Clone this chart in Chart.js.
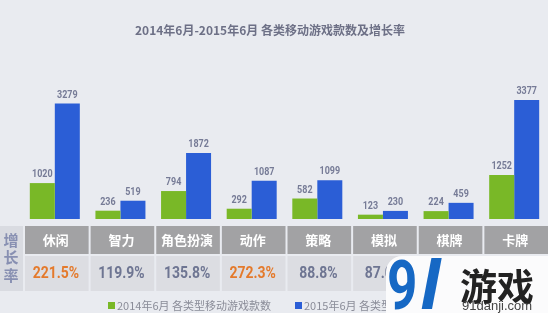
<!DOCTYPE html>
<html><head><meta charset="utf-8">
<script src="https://cdn.jsdelivr.net/npm/chart.js@4.4.1/dist/chart.umd.min.js"></script>
<style>
html,body{margin:0;padding:0;background:#e9ebf0;}
#wrap{position:relative;width:548px;height:313px;overflow:hidden;background:#e9ebf0;}
canvas{display:block;}
#wm{position:absolute;left:386px;top:256px;width:170px;height:70px;background:#fbfbfc;border-radius:16px 0 0 0;}
.w{position:absolute;line-height:1;white-space:nowrap;transform-origin:0 0;}
#w9{left:387px;top:246px;font:bold 68px Roboto,sans-serif;color:#1668c4;transform:scaleX(0.78);}
#wl{left:421px;top:246px;font:italic bold 68px Roboto,sans-serif;color:#1668c4;transform:scaleX(1.1);}
#wg{left:460px;top:258px;font:bold 37px "Noto Sans CJK SC",sans-serif;color:#222;}
#wd{left:462px;top:298px;font:13px "Liberation Sans","DejaVu Sans",sans-serif;color:#444;}
</style></head>
<body>
<div id="wrap">
<canvas id="c" width="548" height="313"></canvas>
<div id="wm"></div>
<div class="w" id="w9">9</div>
<div class="w" id="wl">l</div>
<div class="w" id="wg">游戏</div>
<div class="w" id="wd">91danji.com</div>
</div>
<script>
const categories = ['休闲','智力','角色扮演','动作','策略','模拟','棋牌','卡牌'];
const counts2014 = [1020,236,794,292,582,123,224,1252];
const counts2015 = [3279,519,1872,1087,1099,230,459,3377];
const growthRates = ['221.5%','119.9%','135.8%','272.3%','88.8%','87.0%','104.9%','169.7%'];
const seriesNames = ['2014年6月 各类型移动游戏款数','2015年6月 各类型移动游戏款数'];
const titleText = '2014年6月-2015年6月 各类移动游戏款数及增长率';
const rowLabel = ['增','长','率'];

const GREEN = '#79b827', BLUE = '#2b5ed6';

function narrowText(ctx, t, x, y, sx) {
  ctx.save();
  ctx.translate(x, y);
  ctx.scale(sx, 1);
  ctx.fillText(t, 0, 0);
  ctx.restore();
}

const overlay = {
  id: 'overlay',
  afterDatasetsDraw(chart) {
    const ctx = chart.ctx, xs = chart.scales.x;
    ctx.save();
    // value labels
    ctx.font = 'bold 11.5px Roboto,sans-serif';
    ctx.fillStyle = '#767b96';
    ctx.textAlign = 'center';
    ctx.textBaseline = 'alphabetic';
    chart.data.datasets.forEach((ds, di) => {
      chart.getDatasetMeta(di).data.forEach((bar, i) => {
        narrowText(ctx, String(ds.data[i]), bar.x, bar.y - 6, 0.78);
      });
    });
    // title
    ctx.font = 'bold 12px "Noto Sans CJK SC",sans-serif';
    ctx.fillStyle = '#6d7086';
    ctx.textBaseline = 'middle';
    ctx.fillText(titleText, 270, 30);

    // table
    const slot = xs.getPixelForValue(1) - xs.getPixelForValue(0);
    const hTop = 226, hBot = 254, vTop = 256, vBot = 291;
    ctx.fillStyle = '#d9dbe1';
    ctx.fillRect(0, hTop, 23, vBot - hTop);
    ctx.font = 'bold 15px "Noto Sans CJK SC",sans-serif';
    ctx.fillStyle = '#8890b2';
    rowLabel.forEach((ch, k) => ctx.fillText(ch, 11, 240 + k * 17.5));
    categories.forEach((cat, i) => {
      const cx = xs.getPixelForValue(i) + 1;
      const l = cx - slot / 2 + 2, w = slot - 2;
      ctx.fillStyle = '#a2a2a4';
      ctx.fillRect(l, hTop, w, hBot - hTop);
      ctx.fillStyle = '#dcdde2';
      ctx.fillRect(l, vTop, w, vBot - vTop);
      ctx.font = 'bold 13px "Noto Sans CJK SC",sans-serif';
      ctx.fillStyle = '#ffffff';
      ctx.fillText(cat, cx, 240);
      const g = parseFloat(growthRates[i]);
      ctx.font = 'bold 17px Roboto,sans-serif';
      ctx.fillStyle = g > 200 ? '#e47a2c' : '#6e7592';
      narrowText(ctx, growthRates[i], cx, 274, 0.82);
    });

    // legend
    ctx.font = '11px "Noto Sans CJK SC",sans-serif';
    ctx.textAlign = 'left';
    const lx = [108, 295];
    chart.data.datasets.forEach((ds, di) => {
      ctx.fillStyle = ds.backgroundColor;
      ctx.fillRect(lx[di], 302, 7, 7);
      ctx.fillStyle = '#8a8c98';
      ctx.fillText(ds.label, lx[di] + 9, 306);
    });
    ctx.restore();
  }
};

new Chart(document.getElementById('c'), {
  type: 'bar',
  data: {
    labels: categories,
    datasets: [
      { label: seriesNames[0], data: counts2014, backgroundColor: GREEN },
      { label: seriesNames[1], data: counts2015, backgroundColor: BLUE }
    ]
  },
  options: {
    responsive: false,
    animation: false,
    devicePixelRatio: 1,
    layout: { padding: { left: 22, right: 1, top: 50, bottom: 94 } },
    plugins: { legend: { display: false }, title: { display: false }, tooltip: { enabled: false } },
    datasets: { bar: { categoryPercentage: 0.762, barPercentage: 1.0 } },
    scales: {
      x: { display: false, grid: { display: false } },
      y: { display: false, min: 0, max: 4800, grid: { display: false } }
    }
  },
  plugins: [overlay]
});
</script>
</body></html>
